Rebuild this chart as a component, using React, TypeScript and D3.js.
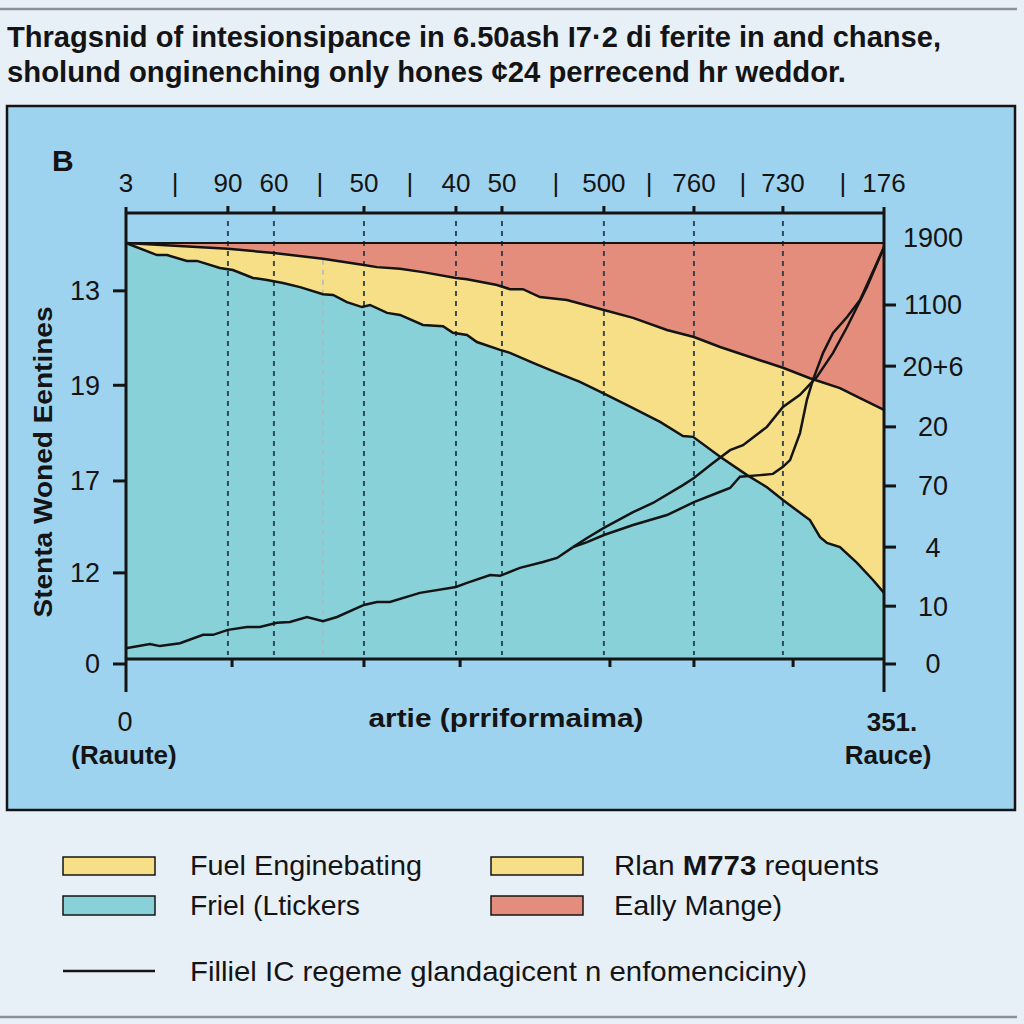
import React from 'react'
import * as d3 from 'd3'

// boundaries: [x, y] with x in 0..351, y in 0..100
const tealTop: [number, number][] = [
  [0, 100], [14.4, 97.1], [19.0, 97.1], [28.2, 95.7], [32.9, 95.7], [43.5, 94.0],
  [49.5, 93.5], [58.8, 91.6], [65.3, 91.1], [72.7, 90.4], [80.6, 89.4], [91.2, 87.7],
  [95.9, 87.5], [102.3, 85.8], [109.3, 84.6], [113.0, 85.1], [120.9, 83.2], [126.9, 82.7],
  [137.5, 80.3], [146.8, 80.0], [151.4, 78.4], [157.9, 77.9], [162.5, 76.2], [173.2, 74.3],
  [177.8, 73.6], [188.5, 71.2], [196.3, 69.5], [210.2, 66.6], [220.9, 63.9], [234.8, 60.3],
  [247.3, 57.0], [257.9, 53.6], [262.6, 53.4], [275.1, 48.6], [287.6, 44.2], [296.8, 41.3],
  [304.2, 38.2], [316.7, 33.4], [321.4, 29.3], [324.6, 27.9], [330.6, 26.9], [338.5, 23.1],
  [345.9, 19.0], [351, 15.9],
]

const yellowTop: [number, number][] = [
  [0, 100], [47.2, 98.6], [68.5, 97.6], [91.2, 96.2], [110.2, 94.7], [116.2, 94.2],
  [126.9, 93.8], [137.5, 93.0], [152.8, 91.6], [157.9, 91.3], [171.8, 89.9], [177.8, 88.9],
  [183.8, 88.9], [191.7, 87.0], [204.2, 86.3], [221.3, 83.9], [234.8, 82.0], [250.5, 79.1],
  [263.0, 77.4], [275.1, 75.0], [289.0, 72.6], [304.2, 70.0], [316.7, 67.5], [330.6, 65.1],
  [339.9, 62.7], [351, 59.9],
]

const lineTrunk: [number, number][] = [
  [0, 2.6], [11.1, 3.6], [15.7, 3.1], [25.0, 3.8], [35.7, 5.8], [40.3, 5.8], [47.2, 7.0],
  [56.0, 7.7], [62.0, 7.7], [69.9, 8.7], [75.9, 8.9], [83.8, 10.1], [91.2, 9.1], [97.7, 10.1],
  [110.2, 13.0], [116.2, 13.7], [122.2, 13.7], [136.1, 15.9], [152.8, 17.3], [157.9, 18.3],
  [168.6, 20.2], [173.2, 20.0], [182.4, 21.9], [193.1, 23.3], [199.6, 24.3], [207.0, 26.9],
]

const branchA: [number, number][] = [
  [207.0, 26.9], [213.5, 29.1], [221.3, 31.5], [234.8, 35.3], [244.0, 37.5], [257.9, 41.8],
  [263.0, 43.5], [271.8, 47.1], [279.7, 50.2], [285.7, 51.4], [296.8, 55.8], [304.2, 60.6],
  [312.1, 63.5], [319.9, 67.8], [327.4, 73.6], [333.9, 79.8], [343.1, 89.4], [351, 99.0],
]

const branchB: [number, number][] = [
  [207.0, 26.9], [213.5, 28.1], [221.3, 29.8], [234.8, 32.2], [250.5, 34.6], [263.0, 37.7],
  [273.7, 39.9], [279.7, 41.1], [284.3, 43.8], [293.6, 44.2], [299.6, 44.5], [304.2, 46.2],
  [307.5, 47.8], [312.1, 54.3], [315.3, 62.3], [318.1, 67.1], [322.8, 73.6], [327.4, 78.4],
  [333.9, 82.2], [339.9, 86.3], [351, 99.0],
]

const topTicks = [47.2, 68.5, 110.2, 152.8, 174.1, 221.3, 263.0, 304.2]
const topLabels = [
  { x: 0, t: '3' }, { x: 47.2, t: '90' }, { x: 68.5, t: '60' }, { x: 110.2, t: '50' },
  { x: 152.8, t: '40' }, { x: 174.1, t: '50' }, { x: 221.3, t: '500' }, { x: 263.0, t: '760' },
  { x: 304.2, t: '730' }, { x: 351, t: '176' },
]
const topSeparators = [22.7, 89.8, 131.5, 199.1, 242.2, 285.7, 332.0]
const grayGuide = 91.2
const bottomTicks = [49.1, 110.2, 154.7, 224.1, 263.0, 308.9]

const leftTicks = [88.5, 65.8, 42.8, 20.7, -1.2]
const leftLabels = ['13', '19', '17', '12', '0']
const rightTicks = [101.4, 85.1, 70.4, 55.8, 41.6, 26.9, 12.7, -1.2]
const rightLabels = ['1900', '1100', '20+6', '20', '70', '4', '10', '0']

const colors = {
  page: '#e8f0f7',
  panel: '#9ed3ef',
  teal: '#89d1d9',
  yellow: '#f6df86',
  red: '#e58d7d',
  ink: '#141414',
}

const font = 'Liberation Sans, Arial, Helvetica, sans-serif'

export default function App() {
  const x = d3.scaleLinear().domain([0, 351]).range([126, 884])
  const y = d3.scaleLinear().domain([0, 100]).range([659, 243])

  const area = d3.area<[number, number]>()
    .x(d => x(d[0]))
    .y0(y(0))
    .y1(d => y(d[1]))
  const line = d3.line<[number, number]>()
    .x(d => x(d[0]))
    .y(d => y(d[1]))

  const full: [number, number][] = [[0, 100], [351, 100]]
  const topAxisY = y(100) - 30
  const frameTop = topAxisY - 6
  const frameBottom = y(0) + 33

  return (
    <svg width={1024} height={1024} style={{ position: 'absolute', left: 0, top: 0 }}
      fontFamily={font}>
      <rect width={1024} height={1024} fill={colors.page} />
      <line x1={0} x2={1017} y1={9} y2={9} stroke="#8c9196" strokeWidth={2.5} />
      <line x1={0} x2={1017} y1={1017} y2={1017} stroke="#8c9196" strokeWidth={2.5} />

      <text x={7} y={47} fontSize={30} fontWeight="bold" fill={colors.ink}
        textLength={934} lengthAdjust="spacingAndGlyphs">
        Thragsnid of intesionsipance in 6.50ash I7·2 di ferite in and chanse,
      </text>
      <text x={7} y={82} fontSize={30} fontWeight="bold" fill={colors.ink}
        textLength={839} lengthAdjust="spacingAndGlyphs">
        sholund onginenching only hones ¢24 perrecend hr weddor.
      </text>

      <rect x={7} y={106} width={1008} height={704} fill={colors.panel}
        stroke={colors.ink} strokeWidth={2.5} />
      <text x={52} y={171} fontSize={30} fontWeight="bold" fill={colors.ink}>B</text>

      {/* stacked areas */}
      <path d={area(full) || ''} fill={colors.red} />
      <path d={area(yellowTop) || ''} fill={colors.yellow} />
      <path d={area(tealTop) || ''} fill={colors.teal} />

      {/* dashed guides */}
      {topTicks.map(t => (
        <line key={`g${t}`} x1={x(t)} x2={x(t)} y1={topAxisY + 8} y2={y(0) - 4}
          stroke="#1c3346" strokeWidth={2} strokeDasharray="5 5" opacity={0.85} />
      ))}
      <line x1={x(grayGuide)} x2={x(grayGuide)} y1={y(96)} y2={y(0) - 4}
        stroke="#a9b9bf" strokeWidth={1.5} strokeDasharray="5 5" />

      {/* boundaries */}
      <path d={line(full) || ''} fill="none" stroke={colors.ink} strokeWidth={1.8} />
      <path d={line(yellowTop) || ''} fill="none" stroke={colors.ink} strokeWidth={2.5} />
      <path d={line(tealTop) || ''} fill="none" stroke={colors.ink} strokeWidth={2.5} />
      <path d={line(lineTrunk) || ''} fill="none" stroke={colors.ink} strokeWidth={2.5} />
      <path d={line(branchA) || ''} fill="none" stroke={colors.ink} strokeWidth={2.5} />
      <path d={line(branchB) || ''} fill="none" stroke={colors.ink} strokeWidth={2.5} />

      {/* frame */}
      <line x1={x(0)} x2={x(351)} y1={topAxisY} y2={topAxisY} stroke={colors.ink} strokeWidth={3} />
      <line x1={x(0)} x2={x(351)} y1={y(0)} y2={y(0)} stroke={colors.ink} strokeWidth={3} />
      <line x1={x(0)} x2={x(0)} y1={frameTop} y2={frameBottom} stroke={colors.ink} strokeWidth={3} />
      <line x1={x(351)} x2={x(351)} y1={frameTop} y2={frameBottom} stroke={colors.ink} strokeWidth={3} />

      {topTicks.map(t => (
        <line key={`tt${t}`} x1={x(t)} x2={x(t)} y1={topAxisY} y2={topAxisY - 7}
          stroke={colors.ink} strokeWidth={3} />
      ))}
      {bottomTicks.map(t => (
        <line key={`bt${t}`} x1={x(t)} x2={x(t)} y1={y(0)} y2={y(0) + 8}
          stroke={colors.ink} strokeWidth={3} />
      ))}
      {topLabels.map(d => (
        <text key={`tl${d.x}`} x={x(d.x)} y={192} fontSize={26} textAnchor="middle" fill={colors.ink}>
          {d.t}
        </text>
      ))}
      {topSeparators.map(s => (
        <text key={`ts${s}`} x={x(s)} y={192} fontSize={26} textAnchor="middle" fill={colors.ink}>|</text>
      ))}

      {leftTicks.map((t, i) => (
        <g key={`lt${i}`}>
          <line x1={x(0) - 13} x2={x(0)} y1={y(t)} y2={y(t)} stroke={colors.ink} strokeWidth={3} />
          <text x={100} y={y(t)} dy="0.35em" fontSize={27} textAnchor="end" fill={colors.ink}>
            {leftLabels[i]}
          </text>
        </g>
      ))}
      {rightTicks.map((t, i) => (
        <g key={`rt${i}`}>
          {i > 0 && (
            <line x1={x(351)} x2={x(351) + 12} y1={y(t)} y2={y(t)} stroke={colors.ink} strokeWidth={3} />
          )}
          <text x={933} y={y(t)} dy="0.35em" fontSize={27} textAnchor="middle" fill={colors.ink}>
            {rightLabels[i]}
          </text>
        </g>
      ))}

      <text transform="translate(52,462) rotate(-90)" fontSize={26} fontWeight="bold"
        textAnchor="middle" fill={colors.ink} textLength={311} lengthAdjust="spacingAndGlyphs">
        Stenta Woned  Eentines
      </text>

      <text x={125} y={731} fontSize={27} textAnchor="middle" fill={colors.ink}>0</text>
      <text x={124} y={764} fontSize={26} fontWeight="bold" textAnchor="middle" fill={colors.ink}>(Rauute)</text>
      <text x={506} y={727} fontSize={26} fontWeight="bold" textAnchor="middle" fill={colors.ink}
        textLength={275} lengthAdjust="spacingAndGlyphs">artie (prriformaima)</text>
      <text x={892} y={731} fontSize={26} fontWeight="bold" textAnchor="middle" fill={colors.ink}>351.</text>
      <text x={888} y={764} fontSize={26} fontWeight="bold" textAnchor="middle" fill={colors.ink}>Rauce)</text>

      {/* legend */}
      <rect x={63} y={857} width={92} height={18} fill={colors.yellow} stroke={colors.ink} strokeWidth={1.5} />
      <text x={190} y={875} fontSize={28} fill={colors.ink} textLength={232}
        lengthAdjust="spacingAndGlyphs">Fuel Enginebating</text>
      <rect x={63} y={896} width={92} height={19} fill={colors.teal} stroke={colors.ink} strokeWidth={1.5} />
      <text x={190} y={915} fontSize={28} fill={colors.ink} textLength={170}
        lengthAdjust="spacingAndGlyphs">Friel (Ltickers</text>
      <rect x={491} y={857} width={92} height={18} fill={colors.yellow} stroke={colors.ink} strokeWidth={1.5} />
      <text x={614} y={875} fontSize={28} fill={colors.ink} textLength={265}
        lengthAdjust="spacingAndGlyphs">
        Rlan <tspan fontWeight="bold">M773</tspan> requents
      </text>
      <rect x={491} y={896} width={92} height={19} fill={colors.red} stroke={colors.ink} strokeWidth={1.5} />
      <text x={614} y={915} fontSize={28} fill={colors.ink} textLength={168}
        lengthAdjust="spacingAndGlyphs">Eally Mange)</text>
      <line x1={63} x2={155} y1={971} y2={971} stroke={colors.ink} strokeWidth={2.5} />
      <text x={190} y={981} fontSize={28} fill={colors.ink} textLength={617}
        lengthAdjust="spacingAndGlyphs">Filliel IC regeme glandagicent n enfomenciciny)</text>
    </svg>
  )
}
